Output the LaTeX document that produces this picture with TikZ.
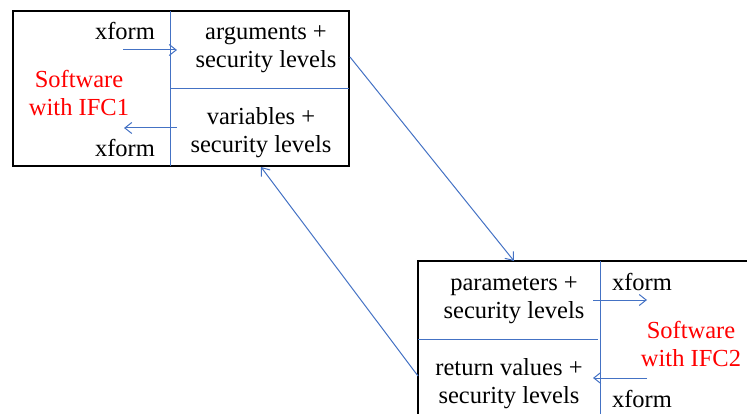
\documentclass[tikz,border=0pt]{standalone}
\usepackage{fontspec}
\setmainfont{Liberation Serif}
\usetikzlibrary{arrows.meta}
\definecolor{ifcblue}{RGB}{68,114,196}

\begin{document}
\begin{tikzpicture}[x=1pt, y=-1pt,
  frame/.style={draw=black, line width=1.2pt},
  wire/.style={draw=ifcblue, line width=1pt},
  flow/.style={wire, -{Straight Barb[length=7pt,width=11pt]}},
  cell/.style={align=center, font=\fontsize{24.5}{28}\selectfont, inner sep=0pt},
  sw/.style={cell, text=red}]
\clip (0,0) rectangle (747,414);

\draw[frame] (13,11) rectangle (349,166);
\draw[wire] (170,11) -- (170,166);
\draw[wire] (170,89) -- (349,89);
\node[cell, anchor=base] (args) at (266,68) {arguments +\\security levels};
\node[cell, anchor=base] (vars) at (261,153) {variables +\\security levels};
\node[cell, anchor=base] (xf1in) at (125,40) {xform};
\node[cell, anchor=base] (xf1out) at (125,157) {xform};
\node[sw] (ifc1) at (79,93) {Software\\with IFC1};
\coordinate (a1) at (123,50);
\coordinate (a2) at (177,50);
\coordinate (v1) at (177,128);
\coordinate (v2) at (124,128);
\draw[flow] (a1) -- (a2);
\draw[flow] (v1) -- (v2);

\draw[frame] (418,261) rectangle (760,430);
\draw[wire] (600,261) -- (600,430);
\draw[wire] (418,339) -- (598,339);
\node[cell, anchor=base] (params) at (514,318) {parameters +\\security levels};
\node[cell, anchor=base] (rets) at (509,403) {return values +\\security levels};
\node[cell, anchor=base] (xf2in) at (642,290) {xform};
\node[cell, anchor=base] (xf2out) at (642,407) {xform};
\node[sw] (ifc2) at (691,344) {Software\\with IFC2};
\coordinate (p1) at (593,300);
\coordinate (p2) at (647,300);
\coordinate (r1) at (647,378);
\coordinate (r2) at (593,378);
\draw[flow] (p1) -- (p2);
\draw[flow] (r1) -- (r2);

\coordinate (call) at (350,57);
\coordinate (enter) at (514,261);
\coordinate (back) at (418,376);
\coordinate (land) at (261,167);
\draw[flow] (call) -- (enter);
\draw[flow] (back) -- (land);
\end{tikzpicture}
\end{document}
